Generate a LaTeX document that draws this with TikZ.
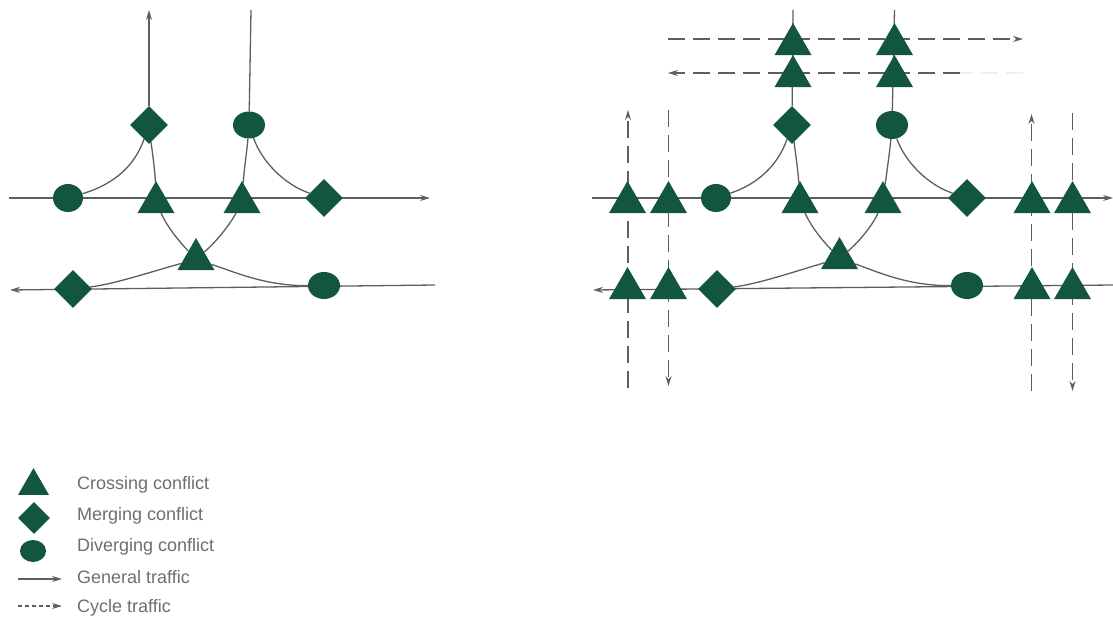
\documentclass[tikz,border=0pt]{standalone}
\usepackage{fontspec}
\setmainfont{Liberation Sans}
\usetikzlibrary{shapes.geometric,arrows.meta,backgrounds}
\definecolor{conf}{HTML}{125640}
\definecolor{roadc}{HTML}{5E5E5E}
\definecolor{labelc}{HTML}{6E6E6E}
\tikzset{
  tri/.style={regular polygon,regular polygon sides=3,fill=conf,draw=none,inner sep=0pt,minimum size=42.7pt},
  legtri/.style={regular polygon,regular polygon sides=3,fill=conf,draw=none,inner sep=0pt,minimum size=35.8pt},
  dia/.style={diamond,fill=conf,draw=none,inner sep=0pt,minimum width=38pt,minimum height=38pt},
  legdia/.style={diamond,fill=conf,draw=none,inner sep=0pt,minimum width=32pt,minimum height=32pt},
  ell/.style={ellipse,fill=conf,draw=none,inner sep=0pt,minimum width=32pt,minimum height=27pt},
  legell/.style={ellipse,fill=conf,draw=none,inner sep=0pt,minimum width=26pt,minimum height=22pt},
  road/.style={draw=roadc,line width=1.3pt},
  tipped/.style={-{Stealth[length=10pt,width=6pt]}},
  cyc/.style={draw=roadc,line width=1.3pt,dash pattern=on 17pt off 8pt},
  faint/.style={draw=black!6,line width=1.3pt,dash pattern=on 17pt off 8pt},
  leg/.style={anchor=west,text=labelc,font=\fontsize{18}{20}\selectfont,inner sep=0pt},
}
\begin{document}
\begin{tikzpicture}[x=1pt,y=-1pt]
\useasboundingbox (0,0) rectangle (1113,617);
% ---------- left conflict nodes
\node[dia] (ld1) at (149,125) {};
\node[ell] (lc1) at (249,125) {};
\node[ell,minimum width=30pt,minimum height=28pt] (lc2) at (68,198) {};
\node[tri] (lt1) at (156,202.4) {};
\node[tri] (lt2) at (242,202.4) {};
\node[dia] (ld2) at (324,198) {};
\node[tri] (lt3) at (196,259.4) {};
\node[dia] (ld3) at (73,289) {};
\node[ell] (lc3) at (324,285.5) {};
% free ends
\coordinate (la) at (149,10);
\coordinate (lb) at (251,10);
\coordinate (lr1a) at (9,198);
\coordinate (lr1b) at (430,198);
\coordinate (lr2a) at (435,285);
\coordinate (lr2b) at (10,290);
% ---------- right conflict nodes
\node[tri] (rn1) at (793,44.4) {};
\node[tri] (rn2) at (894.5,44.4) {};
\node[tri] (rn3) at (793,76.4) {};
\node[tri] (rn4) at (894.5,76.4) {};
\node[dia] (rd1) at (792,125) {};
\node[ell,minimum height=28pt] (rc1) at (892,125) {};
\node[tri] (ru1) at (627.5,202.4) {};
\node[tri] (ru2) at (668.5,202.4) {};
\node[ell,minimum width=30pt,minimum height=28pt] (rc2) at (716,198) {};
\node[tri] (rt1) at (800,202.4) {};
\node[tri] (rt2) at (883,202.4) {};
\node[dia] (rd2) at (967,198) {};
\node[tri] (ru3) at (1032,202.4) {};
\node[tri] (ru4) at (1072.5,202.4) {};
\node[tri] (rt3) at (839.5,258.4) {};
\node[tri] (rl1) at (627.5,288.4) {};
\node[tri] (rl2) at (668.5,288.4) {};
\node[dia] (rd3) at (717,289) {};
\node[ell] (rc3) at (967,285.5) {};
\node[tri] (rl3) at (1032,288.4) {};
\node[tri] (rl4) at (1072.5,288.4) {};
\coordinate (ra) at (793,10);
\coordinate (rb) at (894.5,10);
\coordinate (rr1a) at (592,198);
\coordinate (rr1b) at (1113,198);
\coordinate (rr2a) at (1113,285);
\coordinate (rr2b) at (593,290);
\coordinate (h1a) at (668,39);
\coordinate (h1b) at (1023,39);
\coordinate (h2a) at (960,73);
\coordinate (h2b) at (668,73);
\coordinate (h2c) at (1023,73);
\coordinate (v1a) at (628,388);
\coordinate (v1b) at (628,110);
\coordinate (v2a) at (668.5,110);
\coordinate (v2b) at (668.5,386);
\coordinate (v3a) at (1031.5,391);
\coordinate (v3b) at (1031.5,114);
\coordinate (v4a) at (1072.5,113);
\coordinate (v4b) at (1072.5,391);
% ---------- legend
\node[legtri] (k1) at (33.5,486) {};
\node[legdia] (k2) at (34,518) {};
\node[legell] (k3) at (33,551) {};
\coordinate (k4a) at (18,579);
\coordinate (k4b) at (62,579);
\coordinate (k5a) at (18,606);
\coordinate (k5b) at (62,606);
\node[leg] (t1) at (77,485) {Crossing conflict};
\node[leg] (t2) at (77,515.5) {Merging conflict};
\node[leg] (t3) at (77,546.5) {Diverging conflict};
\node[leg] (t4) at (77,577) {General traffic};
\node[leg] (t5) at (77,607.5) {Cycle traffic};
% ---------- connectors, under the symbols
\begin{scope}[on background layer]
  % left
  \draw[road,tipped] (ld1) -- (la);
  \draw[road] (lb) -- (lc1);
  \draw[road,tipped] (lr1a) -- (lr1b);
  \draw[road,tipped] (lr2a) -- (lr2b);
  \draw[road] (lc2) .. controls (115,184) and (135,165) .. (ld1);
  \draw[road] (ld1) .. controls (152,150) and (155,170) .. (lt1);
  \draw[road] (lt1) .. controls (168,228) and (178,240) .. (lt3);
  \draw[road] (lt3) .. controls (235,272) and (265,286) .. (lc3);
  \draw[road] (lc1) .. controls (247,150) and (244,170) .. (lt2);
  \draw[road] (lt2) .. controls (230,224) and (218,240) .. (lt3);
  \draw[road] (lt3) .. controls (150,272) and (115,284) .. (ld3);
  \draw[road] (lc1) .. controls (262,162) and (285,185) .. (ld2);
  % right
  \draw[road] (rd1) -- (ra);
  \draw[road] (rb) -- (rc1);
  \draw[road,tipped] (rr1a) -- (rr1b);
  \draw[road,tipped] (rr2a) -- (rr2b);
  \draw[road] (rc2) .. controls (758,184) and (778,165) .. (rd1);
  \draw[road] (rd1) .. controls (795,150) and (798,170) .. (rt1);
  \draw[road] (rt1) .. controls (812,228) and (822,240) .. (rt3);
  \draw[road] (rt3) .. controls (878,272) and (908,286) .. (rc3);
  \draw[road] (rc1) .. controls (890,150) and (887,170) .. (rt2);
  \draw[road] (rt2) .. controls (873,224) and (861,240) .. (rt3);
  \draw[road] (rt3) .. controls (793,272) and (758,284) .. (rd3);
  \draw[road] (rc1) .. controls (905,162) and (928,185) .. (rd2);
  % cycle tracks
  \draw[cyc,tipped] (h1a) -- (h1b);
  \draw[cyc,tipped] (h2a) -- (h2b);
  \draw[faint] (h2c) -- (h2a);
  \draw[cyc,tipped] (v1a) -- (v1b);
  \draw[cyc,tipped] (v2a) -- (v2b);
  \draw[cyc,tipped] (v3a) -- (v3b);
  \draw[cyc,tipped] (v4a) -- (v4b);
  % legend lines
  \draw[road,tipped] (k4a) -- (k4b);
  \draw[road,tipped,dash pattern=on 4pt off 3pt] (k5a) -- (k5b);
\end{scope}
\end{tikzpicture}
\end{document}
